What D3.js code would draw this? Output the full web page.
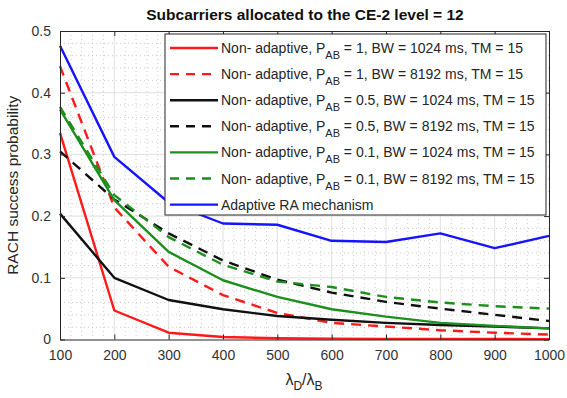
<!DOCTYPE html>
<html>
<head>
<meta charset="utf-8">
<script src="https://cdn.jsdelivr.net/npm/d3@7/dist/d3.min.js"></script>
<style>
  html, body { margin: 0; padding: 0; background: #fff; }
  svg { display: block; font-family: "Liberation Sans", Arial, sans-serif; }
</style>
</head>
<body>
<svg id="chart" width="567" height="398"></svg>
<script>
// Arrival ratio values on the x axis
const ratios = [100, 200, 300, 400, 500, 600, 700, 800, 900, 1000];

// RACH success probability for each configuration
const pab1Bw1024   = [0.335, 0.047, 0.011, 0.004, 0.002, 0.0015, 0.001, 0.001, 0.0008, 0.0006];
const pab1Bw8192   = [0.443, 0.214, 0.118, 0.072, 0.043, 0.027, 0.021, 0.015, 0.011, 0.008];
const pab05Bw1024  = [0.204, 0.100, 0.064, 0.049, 0.038, 0.032, 0.027, 0.0235, 0.021, 0.018];
const pab05Bw8192  = [0.305, 0.227, 0.172, 0.128, 0.097, 0.076, 0.061, 0.050, 0.040, 0.030];
const pab01Bw1024  = [0.373, 0.226, 0.142, 0.096, 0.069, 0.049, 0.037, 0.027, 0.022, 0.018];
const pab01Bw8192  = [0.377, 0.234, 0.166, 0.121, 0.094, 0.085, 0.069, 0.060, 0.054, 0.050];
const adaptive     = [0.476, 0.296, 0.222, 0.188, 0.186, 0.160, 0.158, 0.172, 0.148, 0.168];

const xTicks = [100, 200, 300, 400, 500, 600, 700, 800, 900, 1000];
const yTicks = [0, 0.1, 0.2, 0.3, 0.4, 0.5];

const series = [
  { pab: "1",   bw: "1024", values: pab1Bw1024,  color: "#ff1a1a", dash: null },
  { pab: "1",   bw: "8192", values: pab1Bw8192,  color: "#ff1a1a", dash: "10,7" },
  { pab: "0.5", bw: "1024", values: pab05Bw1024, color: "#111111", dash: null },
  { pab: "0.5", bw: "8192", values: pab05Bw8192, color: "#111111", dash: "10,7" },
  { pab: "0.1", bw: "1024", values: pab01Bw1024, color: "#1c8f1c", dash: null },
  { pab: "0.1", bw: "8192", values: pab01Bw8192, color: "#1c8f1c", dash: "10,7" },
  { pab: null,  bw: null,   values: adaptive,    color: "#1414ff", dash: null }
];

const svg = d3.select("#chart");
const m = { left: 60, top: 31, right: 549, bottom: 339.5 };

const x = d3.scaleLinear().domain([100, 1000]).range([m.left, m.right]);
const y = d3.scaleLinear().domain([0, 0.5]).range([m.bottom, m.top]);

// plot background
svg.append("rect")
  .attr("x", m.left).attr("y", m.top)
  .attr("width", m.right - m.left).attr("height", m.bottom - m.top)
  .attr("fill", "#fff");

// minor grid (dotted)
const minorX = d3.range(120, 1000, 20).filter(v => v % 100 !== 0);
const minorY = d3.range(0.02, 0.5, 0.02).filter(v => Math.abs(v * 10 - Math.round(v * 10)) > 1e-6);
const grid = svg.append("g");
grid.selectAll(".mx").data(minorX).join("line")
  .attr("x1", d => x(d)).attr("x2", d => x(d))
  .attr("y1", m.top).attr("y2", m.bottom)
  .attr("stroke", "#c0c0c0").attr("stroke-width", 0.8).attr("stroke-dasharray", "1,3");
grid.selectAll(".my").data(minorY).join("line")
  .attr("y1", d => y(d)).attr("y2", d => y(d))
  .attr("x1", m.left).attr("x2", m.right)
  .attr("stroke", "#c0c0c0").attr("stroke-width", 0.8).attr("stroke-dasharray", "1,3");
// major grid
grid.selectAll(".gx").data(xTicks.slice(1, -1)).join("line")
  .attr("x1", d => x(d)).attr("x2", d => x(d))
  .attr("y1", m.top).attr("y2", m.bottom)
  .attr("stroke", "#d8d8d8").attr("stroke-width", 0.8);
grid.selectAll(".gy").data(yTicks.slice(1, -1)).join("line")
  .attr("y1", d => y(d)).attr("y2", d => y(d))
  .attr("x1", m.left).attr("x2", m.right)
  .attr("stroke", "#d8d8d8").attr("stroke-width", 0.8);

// data lines
const line = d3.line().x((d, i) => x(ratios[i])).y(d => y(d));
svg.append("g").selectAll("path").data(series).join("path")
  .attr("d", d => line(d.values))
  .attr("fill", "none")
  .attr("stroke", d => d.color)
  .attr("stroke-width", 2.4)
  .attr("stroke-dasharray", d => d.dash)
  .attr("stroke-linejoin", "round");

// axes (box with inward ticks)
const axisColor = "#262626";
const fmtY = d => d === 0 ? "0" : d3.format(".1f")(d);
const gxB = svg.append("g").attr("transform", `translate(0,${m.bottom})`)
  .call(d3.axisBottom(x).tickValues(xTicks).tickSizeInner(-5).tickSizeOuter(0).tickPadding(11).tickFormat(d3.format("d")));
const gxT = svg.append("g").attr("transform", `translate(0,${m.top})`)
  .call(d3.axisTop(x).tickValues(xTicks).tickSizeInner(-5).tickSizeOuter(0).tickFormat(""));
const gyL = svg.append("g").attr("transform", `translate(${m.left},0)`)
  .call(d3.axisLeft(y).tickValues(yTicks).tickSizeInner(-5).tickSizeOuter(0).tickPadding(9).tickFormat(fmtY));
const gyR = svg.append("g").attr("transform", `translate(${m.right},0)`)
  .call(d3.axisRight(y).tickValues(yTicks).tickSizeInner(-5).tickSizeOuter(0).tickFormat(""));
[gxB, gxT, gyL, gyR].forEach(g => {
  g.select(".domain").attr("stroke", axisColor).attr("stroke-width", 1);
  g.selectAll(".tick line").attr("stroke", axisColor);
  g.selectAll(".tick text").attr("fill", "#333").attr("font-size", 14)
    .attr("font-family", "'Liberation Sans', Arial, sans-serif");
});

// legend
const lg = svg.append("g");
const lx = 165, ly = 34, lw = 381, lh = 181, rowH = 26.1;
lg.append("rect").attr("x", lx).attr("y", ly).attr("width", lw).attr("height", lh)
  .attr("fill", "#fff").attr("stroke", axisColor).attr("stroke-width", 1);
const rows = lg.selectAll(".row").data(series).join("g")
  .attr("transform", (d, i) => `translate(${lx},${ly + 14 + i * rowH})`);
rows.append("line")
  .attr("x1", 5).attr("x2", 53).attr("y1", 0).attr("y2", 0)
  .attr("stroke", d => d.color).attr("stroke-width", 2.4)
  .attr("stroke-dasharray", d => d.dash ? "9,7" : null);
const lt = rows.append("text").attr("x", 56).attr("y", 5)
  .attr("font-size", 14).attr("fill", "#262626");
lt.each(function (d) {
  const t = d3.select(this);
  if (d.pab === null) { t.text("Adaptive RA mechanism"); return; }
  t.append("tspan").text("Non- adaptive, P");
  t.append("tspan").attr("dy", 6).attr("font-size", 11).text("AB");
  t.append("tspan").attr("dy", -6).text(` = ${d.pab}, BW = ${d.bw} ms, TM = 15`);
});

// title
svg.append("text").attr("x", 305).attr("y", 20).attr("text-anchor", "middle")
  .attr("font-size", 15.5).attr("font-weight", "bold").attr("fill", "#111")
  .text("Subcarriers allocated to the CE-2 level = 12");

// axis titles
svg.append("text")
  .attr("transform", `translate(18,${(m.top + m.bottom) / 2}) rotate(-90)`)
  .attr("text-anchor", "middle").attr("font-size", 15.5).attr("fill", "#262626")
  .text("RACH success probability");

const xl = svg.append("text").attr("x", 304).attr("y", 385)
  .attr("text-anchor", "middle").attr("font-size", 16).attr("fill", "#262626");
xl.append("tspan").text("λ");
xl.append("tspan").attr("dy", 5).attr("font-size", 12).text("D");
xl.append("tspan").attr("dy", -5).text("/λ");
xl.append("tspan").attr("dy", 5).attr("font-size", 12).text("B");
</script>
</body>
</html>
